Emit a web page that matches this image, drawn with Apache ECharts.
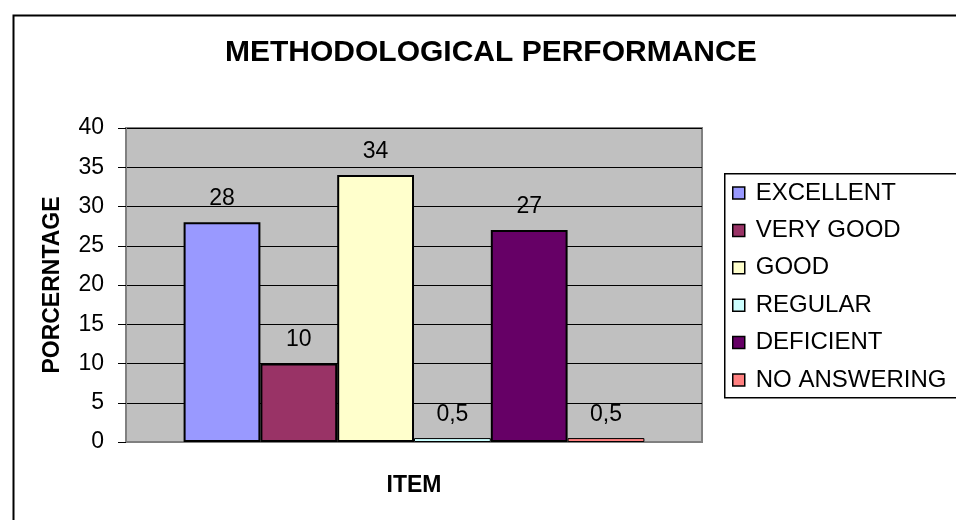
<!DOCTYPE html>
<html>
<head>
<meta charset="utf-8">
<script src="https://cdn.jsdelivr.net/npm/echarts@6/dist/echarts.min.js"></script>
<style>
  html, body { margin: 0; padding: 0; background: #ffffff; }
  #chart { width: 956px; height: 520px; }
</style>
</head>
<body>
<div id="chart"></div>
<script>
// Survey results: share of answers per rating (percent)
const categories = ['ITEM'];
const seriesNames = ['EXCELLENT', 'VERY GOOD', 'GOOD', 'REGULAR', 'DEFICIENT', 'NO ANSWERING'];
const seriesValues = [28, 10, 34, 0.5, 27, 0.5];
const seriesColors = ['#9999FF', '#993366', '#FFFFCC', '#CCFFFF', '#660066', '#FF8080'];
const yTicks = { min: 0, max: 40, interval: 5 };

const FONT = '"Liberation Sans", Arial, sans-serif';

const chart = echarts.init(document.getElementById('chart'), null, { renderer: 'canvas' });

const series = seriesNames.map((name, i) => ({
  name: name,
  type: 'bar',
  data: [seriesValues[i]],
  barGap: '0%',
  barCategoryGap: '20%',
  itemStyle: {
    color: seriesColors[i],
    borderColor: '#000000',
    // thin outline on very short bars so their fill stays visible
    borderWidth: seriesValues[i] < 1 ? 1 : 2
  },
  label: {
    show: true,
    position: 'top',
    distance: 12,
    color: '#000000',
    fontFamily: FONT,
    fontSize: 23,
    formatter: p => String(p.value).replace('.', ',')
  },
  emphasis: { disabled: true }
}));

chart.setOption({
  animation: false,
  backgroundColor: '#ffffff',
  title: {
    text: 'METHODOLOGICAL PERFORMANCE',
    left: 225,
    top: 38,
    padding: 0,
    textStyle: { fontFamily: FONT, fontSize: 30, fontWeight: 'bold', color: '#000000' }
  },
  graphic: [
    {
      type: 'rect',
      left: 11, top: 13,
      shape: { width: 1000, height: 600 },
      style: { fill: 'none', stroke: '#000000', lineWidth: 2 },
      z: 0
    },
    {
      type: 'rect',
      left: 724, top: 173,
      shape: { width: 300, height: 224 },
      style: { fill: '#ffffff', stroke: '#000000', lineWidth: 1.5 },
      z: 0
    }
  ],
  legend: {
    orient: 'vertical',
    left: 732,
    top: 181,
    padding: 0,
    itemWidth: 12,
    itemHeight: 12,
    itemGap: 13.4,
    icon: 'rect',
    selectedMode: false,
    itemStyle: { borderColor: '#000000', borderWidth: 1.5 },
    textStyle: { fontFamily: FONT, fontSize: 24, color: '#000000', lineHeight: 24, padding: [0, 0, 0, 6] },
    data: seriesNames
  },
  grid: {
    left: 126,
    top: 128,
    right: 254,
    bottom: 78,
    show: true,
    backgroundColor: '#C0C0C0',
    borderColor: '#808080',
    borderWidth: 2
  },
  xAxis: {
    type: 'category',
    data: categories,
    name: 'ITEM',
    nameLocation: 'middle',
    nameGap: 32,
    nameTextStyle: { fontFamily: FONT, fontSize: 23, fontWeight: 'bold', color: '#000000' },
    axisLine: { show: true, lineStyle: { color: '#808080', width: 2 } },
    axisTick: { show: false },
    axisLabel: { show: false },
    splitLine: { show: false }
  },
  yAxis: {
    type: 'value',
    min: yTicks.min,
    max: yTicks.max,
    interval: yTicks.interval,
    name: 'PORCERNTAGE',
    nameLocation: 'middle',
    nameRotate: 90,
    nameGap: 62,
    nameTextStyle: { fontFamily: FONT, fontSize: 23, fontWeight: 'bold', color: '#000000' },
    axisLine: { show: true, lineStyle: { color: '#808080', width: 2 } },
    axisTick: { show: true, inside: false, length: 8, lineStyle: { color: '#000000', width: 1 } },
    axisLabel: { margin: 22, fontFamily: FONT, fontSize: 23, color: '#000000' },
    splitLine: { show: true, lineStyle: { color: '#000000', width: 1 } }
  },
  series: series
});
</script>
</body>
</html>
